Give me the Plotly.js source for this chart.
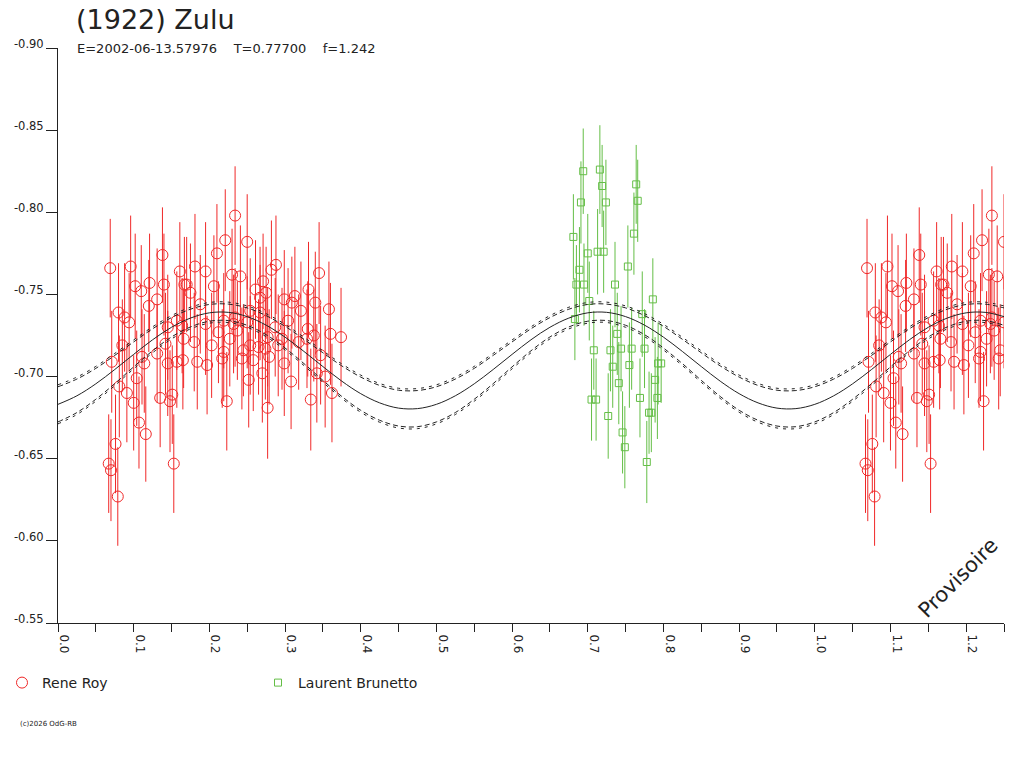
<!DOCTYPE html>
<html><head><meta charset="utf-8">
<script src="https://cdn.plot.ly/plotly-3.0.1.min.js"></script>
<style>html,body{margin:0;padding:0;background:#fff}#chart{width:1024px;height:768px}</style>
</head><body><div id="chart"></div>
<script>
// Rene Roy observations (phase, magnitude, error)
const royPhase = [0.069,0.096,0.138,0.161,0.102,0.110,0.121,0.140,0.167,0.080,0.088,0.094,0.120,0.131,0.157,0.164,0.145,0.166,0.142,0.085,0.131,0.111,0.071,0.114,0.145,0.165,0.157,0.081,0.091,0.104,0.135,0.148,0.100,0.151,0.107,0.116,0.076,0.067,0.070,0.153,0.079,
  0.234,0.221,0.250,0.210,0.181,0.195,0.230,0.241,0.282,0.170,0.175,0.206,0.271,0.261,0.275,0.267,0.188,0.254,0.267,0.234,0.195,0.219,0.232,0.250,0.212,0.237,0.227,0.180,0.203,0.254,0.265,0.274,0.219,0.245,0.217,0.243,0.184,0.197,0.258,0.270,0.252,0.223,0.277,
  0.288,0.345,0.331,0.313,0.309,0.340,0.321,0.358,0.299,0.304,0.287,0.330,0.360,0.374,0.338,0.277,0.296,0.318,0.329,0.291,0.347,0.279,0.299,0.342,0.353,0.308,0.362,0.334];
const royMag = [-0.766,-0.767,-0.774,-0.764,-0.755,-0.752,-0.757,-0.756,-0.756,-0.739,-0.736,-0.733,-0.743,-0.747,-0.734,-0.731,-0.730,-0.723,-0.720,-0.719,-0.714,-0.712,-0.709,-0.708,-0.708,-0.710,-0.709,-0.694,-0.690,-0.699,-0.687,-0.685,-0.684,-0.689,-0.672,-0.665,-0.659,-0.647,-0.643,-0.647,-0.627,
  -0.798,-0.783,-0.782,-0.775,-0.767,-0.764,-0.762,-0.761,-0.765,-0.756,-0.751,-0.755,-0.758,-0.753,-0.751,-0.748,-0.744,-0.740,-0.739,-0.736,-0.732,-0.734,-0.732,-0.733,-0.727,-0.728,-0.723,-0.721,-0.719,-0.719,-0.718,-0.717,-0.715,-0.716,-0.711,-0.711,-0.709,-0.707,-0.710,-0.702,-0.698,-0.685,-0.681,
  -0.768,-0.763,-0.753,-0.749,-0.745,-0.745,-0.740,-0.741,-0.747,-0.734,-0.730,-0.729,-0.726,-0.724,-0.725,-0.724,-0.723,-0.721,-0.723,-0.719,-0.713,-0.712,-0.708,-0.702,-0.700,-0.697,-0.690,-0.686];
const royErr = [0.030,0.031,0.029,0.030,0.032,0.028,0.030,0.031,0.029,0.030,0.033,0.030,0.028,0.031,0.030,0.029,0.032,0.030,0.031,0.028,0.030,0.029,0.031,0.030,0.032,0.030,0.028,0.031,0.030,0.029,0.030,0.031,0.029,0.030,0.028,0.029,0.030,0.030,0.031,0.030,0.030,
  0.030,0.031,0.029,0.030,0.032,0.030,0.028,0.031,0.030,0.029,0.030,0.031,0.029,0.030,0.028,0.031,0.030,0.032,0.029,0.030,0.031,0.029,0.030,0.028,0.031,0.030,0.029,0.030,0.032,0.030,0.029,0.031,0.030,0.028,0.030,0.031,0.029,0.030,0.031,0.030,0.029,0.030,0.031,
  0.030,0.031,0.029,0.030,0.028,0.031,0.030,0.029,0.030,0.032,0.030,0.029,0.031,0.030,0.028,0.030,0.031,0.029,0.030,0.031,0.030,0.029,0.032,0.030,0.031,0.029,0.030,0.031];

// Laurent Brunetto observations
const brunettoPhase = [0.694,0.716,0.719,0.691,0.724,0.764,0.766,0.681,0.761,0.700,0.713,0.721,0.753,0.689,0.685,0.695,0.736,0.786,0.702,0.683,0.772,0.739,0.708,0.730,0.744,0.758,0.775,0.733,0.755,0.793,0.797,0.741,0.789,0.705,0.711,0.769,0.792,0.727,0.781,0.784,0.746,0.749,0.778];
const brunettoMag = [-0.825,-0.826,-0.816,-0.806,-0.806,-0.817,-0.807,-0.785,-0.787,-0.775,-0.776,-0.776,-0.767,-0.765,-0.756,-0.756,-0.756,-0.747,-0.746,-0.735,-0.738,-0.726,-0.716,-0.716,-0.717,-0.717,-0.717,-0.706,-0.707,-0.708,-0.708,-0.696,-0.698,-0.686,-0.686,-0.687,-0.687,-0.676,-0.678,-0.678,-0.666,-0.657,-0.648];
const brunettoErr = [0.026,0.027,0.025,0.025,0.026,0.024,0.025,0.026,0.025,0.024,0.026,0.025,0.025,0.026,0.024,0.025,0.026,0.025,0.024,0.025,0.026,0.025,0.024,0.025,0.026,0.025,0.024,0.025,0.026,0.025,0.024,0.025,0.026,0.025,0.025,0.024,0.025,0.026,0.025,0.024,0.025,0.025,0.025];

// Fitted curve
const fitPhase = [0.000,0.025,0.050,0.075,0.100,0.125,0.150,0.175,0.200,0.225,0.250,0.275,0.300,0.325,0.350,0.375,0.400,0.425,0.450,0.475,
  0.500,0.525,0.550,0.575,0.600,0.625,0.650,0.675,0.700,0.725,0.750,0.775,0.800,0.825,0.850,0.875,0.900,0.925,0.950,0.975,
  1.000,1.025,1.050,1.075,1.100,1.125,1.150,1.175,1.200,1.225,1.250];
const fitMag = [-0.6831,-0.6883,-0.6956,-0.7043,-0.7135,-0.7224,-0.7300,-0.7356,-0.7388,-0.7391,-0.7365,-0.7313,-0.7240,-0.7153,-0.7061,-0.6972,-0.6896,-0.6840,-0.6808,-0.6805,
  -0.6831,-0.6883,-0.6956,-0.7043,-0.7135,-0.7224,-0.7300,-0.7356,-0.7388,-0.7391,-0.7365,-0.7313,-0.7240,-0.7153,-0.7061,-0.6972,-0.6896,-0.6840,-0.6808,-0.6805,
  -0.6831,-0.6883,-0.6956,-0.7043,-0.7135,-0.7224,-0.7300,-0.7356,-0.7388,-0.7391,-0.7365];
const fitHalfWidth = [0.0107,0.0102,0.0094,0.0086,0.0076,0.0067,0.0059,0.0054,0.0051,0.0050,0.0053,0.0058,0.0066,0.0074,0.0084,0.0093,0.0101,0.0106,0.0109,0.0110,
  0.0107,0.0102,0.0094,0.0086,0.0076,0.0067,0.0059,0.0054,0.0051,0.0050,0.0053,0.0058,0.0066,0.0074,0.0084,0.0093,0.0101,0.0106,0.0109,0.0110,
  0.0107,0.0102,0.0094,0.0086,0.0076,0.0067,0.0059,0.0054,0.0051,0.0050,0.0053];
const fitPairGap = 0.0012;

const xTickVals = [0,0.05,0.1,0.15,0.2,0.25,0.3,0.35,0.4,0.45,0.5,0.55,0.6,0.65,0.7,0.75,0.8,0.85,0.9,0.95,1.0,1.05,1.1,1.15,1.2,1.25];
const xTickText = ["0.0","","0.1","","0.2","","0.3","","0.4","","0.5","","0.6","","0.7","","0.8","","0.9","","1.0","","1.1","","1.2",""];
const yTickVals = [-0.90,-0.85,-0.80,-0.75,-0.70,-0.65,-0.60,-0.55];
const yTickText = ["-0.90","-0.85","-0.80","-0.75","-0.70","-0.65","-0.60","-0.55"];

const titleText = "(1922) Zulu";
const subtitleText = "E=2002-06-13.57976&nbsp;&nbsp;&nbsp;&nbsp;T=0.77700&nbsp;&nbsp;&nbsp;&nbsp;f=1.242";
const PHASE_MAX = 1.25;

const RED = "rgb(240,40,40)";
const GREEN = "rgb(100,190,70)";
const INK = "#222222";

// repeat the part of Rene Roy's data that falls in the wrapped phase range
const royPhaseWrap = [], royMagWrap = [], royErrWrap = [];
royPhase.forEach((p, i) => {
  if (p + 1 <= PHASE_MAX + 0.001) { royPhaseWrap.push(p + 1); royMagWrap.push(royMag[i]); royErrWrap.push(royErr[i]); }
});

const upperA = fitMag.map((m, i) => m - fitHalfWidth[i]);
const upperB = fitMag.map((m, i) => m - fitHalfWidth[i] - fitPairGap);
const lowerA = fitMag.map((m, i) => m + fitHalfWidth[i]);
const lowerB = fitMag.map((m, i) => m + fitHalfWidth[i] + fitPairGap);

function obs(name, x, y, err, color, symbol, size, show) {
  return {
    type: "scatter", mode: "markers", name: name, x: x, y: y,
    legendgroup: name, showlegend: show,
    marker: {symbol: symbol, size: size, color: color, line: {color: color, width: 1}},
    error_y: {type: "data", array: err, visible: true, color: color, thickness: 1, width: 0},
    hoverinfo: "x+y"
  };
}
function fitLine(y, dash) {
  return {type: "scatter", mode: "lines", x: fitPhase, y: y, showlegend: false, hoverinfo: "skip",
    line: {color: INK, width: 1, dash: dash, shape: "spline", smoothing: 1}};
}

const data = [
  obs("Rene Roy", royPhase, royMag, royErr, RED, "circle-open", 11, true),
  obs("Rene Roy", royPhaseWrap, royMagWrap, royErrWrap, RED, "circle-open", 11, false),
  obs("Laurent Brunetto", brunettoPhase, brunettoMag, brunettoErr, GREEN, "square-open", 7, true),
  fitLine(fitMag, "solid"),
  fitLine(upperA, "5px,3px"),
  fitLine(upperB, "3px,5px"),
  fitLine(lowerA, "5px,3px"),
  fitLine(lowerB, "3px,5px")
];

const layout = {
  width: 1024, height: 768,
  margin: {l: 58, r: 20, t: 48, b: 145, pad: 0},
  paper_bgcolor: "#ffffff", plot_bgcolor: "#ffffff",
  font: {family: "DejaVu Sans", color: INK, size: 12},
  title: {text: titleText, font: {size: 27, color: INK, family: "DejaVu Sans"},
    x: 76 / 1024, xanchor: "left", xref: "container", y: 1 - 20 / 768, yanchor: "middle", yref: "container"},
  xaxis: {range: [0, PHASE_MAX], showgrid: false, zeroline: false, showline: true, linecolor: INK, linewidth: 1,
    ticks: "outside", ticklen: 8, tickwidth: 1, tickcolor: INK, tickmode: "array", tickvals: xTickVals, ticktext: xTickText,
    tickangle: 90, tickfont: {size: 12, color: INK}, ticklabelshift: 6},
  yaxis: {range: [-0.55, -0.90], showgrid: false, zeroline: false, showline: true, linecolor: INK, linewidth: 1,
    ticks: "outside", ticklen: 11, tickwidth: 1, tickcolor: INK, tickmode: "array", tickvals: yTickVals, ticktext: yTickText,
    tickfont: {size: 11.5, color: INK}, ticklabelshift: 4},
  showlegend: true,
  legend: {orientation: "h", xref: "container", yref: "container", x: 2 / 1024, xanchor: "left", y: 1 - 683 / 768, yanchor: "middle",
    font: {size: 14, color: INK}, entrywidth: 211, entrywidthmode: "pixels", traceorder: "normal", bgcolor: "rgba(0,0,0,0)"},
  annotations: [
    {text: subtitleText, xref: "paper", yref: "paper", x: (75 - 58) / 946, y: 1.0, xanchor: "left", yanchor: "middle",
      showarrow: false, font: {size: 13, color: INK}},
    {text: "Provisoire", xref: "paper", yref: "paper", x: (958 - 58) / 946, y: (623 - 578) / 575, xanchor: "center", yanchor: "middle",
      textangle: -45, showarrow: false, font: {size: 21, color: INK}},
    {text: "(c)2026 OdG-RB", xref: "paper", yref: "paper", x: (18 - 58) / 946, y: (623 - 724) / 575, xanchor: "left", yanchor: "middle",
      showarrow: false, font: {size: 7, color: INK}}
  ]
};

Plotly.newPlot("chart", data, layout, {displayModeBar: false, staticPlot: true});
</script></body></html>
